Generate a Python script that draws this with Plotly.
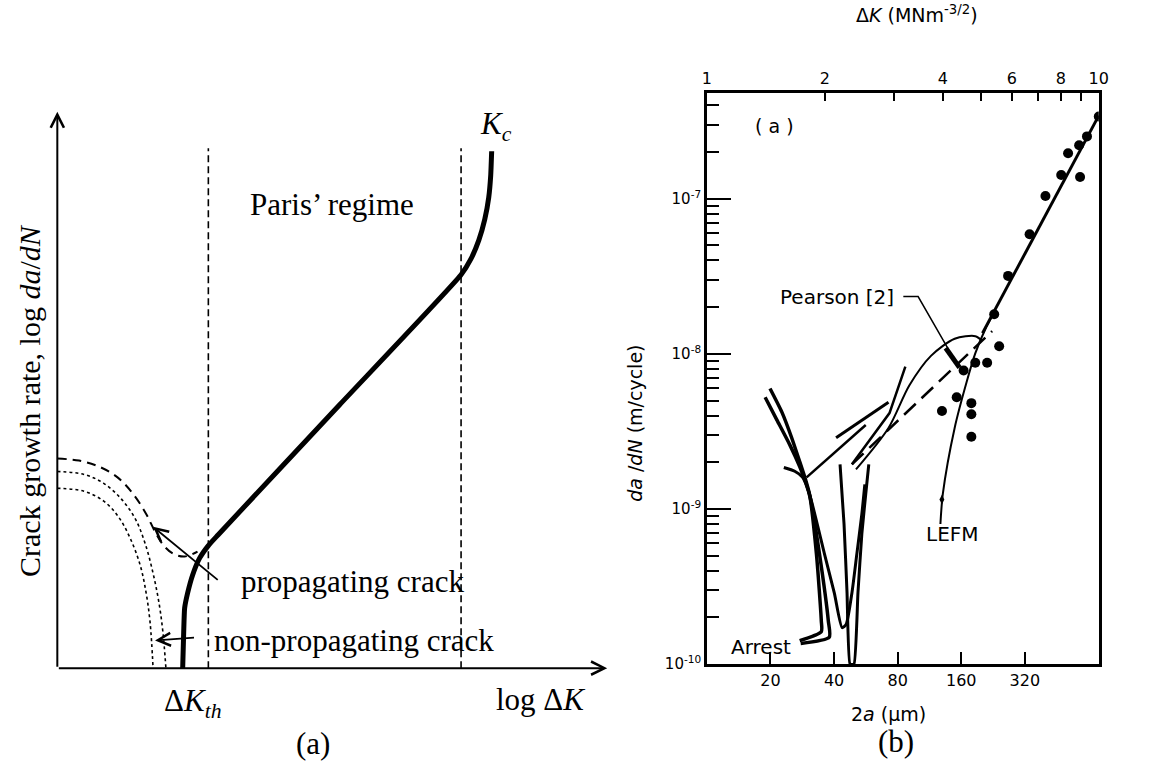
import math
import plotly.graph_objects as go

W, H = 1168, 774

# ================= Panel (a): schematic (arbitrary units: u = log dK, v = log da/dN) =========
paris_u = [2.54, 2.56, 2.58, 2.64, 2.74, 2.88, 3.06, 3.26, 5.72, 8.18, 8.38, 8.54, 8.66, 8.74, 8.78, 8.80]
paris_v = [0.0, 0.72, 1.22, 1.52, 1.88, 2.22, 2.48, 2.70, 5.33, 7.96, 8.28, 8.66, 9.08, 9.52, 9.96, 10.46]
bound_u = [3.06, 8.18]
bound_top_v = 10.52
short_dash_u = [0.0, 0.44, 0.84, 1.22, 1.54, 1.80, 1.98, 2.14, 2.34, 2.58, 2.84]
short_dash_v = [4.24, 4.20, 4.08, 3.86, 3.52, 3.12, 2.76, 2.50, 2.32, 2.26, 2.36]
dot1_u = [0.0, 0.54, 0.94, 1.30, 1.58, 1.78, 1.94, 2.06, 2.14, 2.20]
dot1_v = [3.98, 3.92, 3.74, 3.42, 3.02, 2.52, 1.92, 1.32, 0.72, 0.0]
dot2_u = [0.0, 0.54, 0.94, 1.24, 1.48, 1.68, 1.80, 1.88, 1.94]
dot2_v = [3.64, 3.58, 3.38, 3.06, 2.62, 2.08, 1.52, 0.92, 0.0]
axis_len_u = 11.14
axis_len_v = 11.26
prop_arrow = [3.28, 1.76, 1.94, 2.86]      # tail u, tail v, head u, head v
nonprop_arrow = [2.80, 0.62, 1.98, 0.56]

# ================= Panel (b): da/dN vs 2a (bottom) and dK (top) =================
# short-crack curves, x = 2a (um), y = da/dN (m/cycle)
crackP_2a = [19.9, 22.65, 25.2, 27.5, 29.3, 30.6, 33.0, 34.8, 34.8, 27.5]
crackP_rate = [5.98e-9, 4.21e-9, 2.88e-9, 2.02e-9, 1.55e-9, 1.25e-9, 5.16e-10, 1.91e-10, 1.62e-10, 1.42e-10]
crackQ_2a = [18.87, 21.47, 24.7, 27.5, 29.3, 30.95, 34.1, 37.56, 37.96, 27.8]
crackQ_rate = [5.25e-9, 3.74e-9, 2.59e-9, 1.88e-9, 1.5e-9, 1.16e-9, 5.16e-10, 1.91e-10, 1.49e-10, 1.36e-10]
crackR_2a = [23.14, 26.06, 28.4, 30.6, 36.0, 40.1, 43.67, 45.6, 48.6, 51.3, 54.16, 55.95]
crackR_rate = [1.85e-9, 1.75e-9, 1.60e-9, 1.25e-9, 5.16e-10, 2.88e-10, 1.72e-10, 1.80e-10, 2.88e-10, 5.16e-10, 9.3e-10, 1.44e-9]
crackV_2a = [42.7, 44.6, 46.08, 47.6, 49.7, 51.9, 54.16, 56.5, 58.4]
crackV_rate = [1.94e-9, 8.0e-10, 2.88e-10, 1.0e-10, 1.0e-10, 2.88e-10, 6.93e-10, 1.25e-9, 1.94e-9]
seg1_2a = [29.65, 56.5]
seg1_rate = [1.60e-9, 3.48e-9]
seg2_2a = [40.9, 72.4]
seg2_rate = [2.88e-9, 4.88e-9]
seg3_2a = [48.6, 73.2, 87.0]
seg3_rate = [1.94e-9, 4.15e-9, 8.26e-9]
arc_2a = [50.8, 72.4, 90.8, 115.0, 148.9, 186.6, 201.3]
arc_rate = [1.80e-9, 3.33e-9, 6.25e-9, 9.7e-9, 1.25e-8, 1.30e-8, 1.21e-8]
pearson_fit_2a = [48.6, 224.1]
pearson_fit_rate = [1.94e-9, 1.40e-8]
lefm_2a = [127.5, 130.9, 148.9, 169.4, 186.6, 207.9, 224.1]
lefm_rate = [8.0e-10, 1.25e-9, 3.33e-9, 6.53e-9, 1.01e-8, 1.44e-8, 1.75e-8]
lefm_mark = (129.6, 1.15e-9)
leader_2a = [85.1, 100.0, 138.1]
leader_rate = [2.34e-8, 2.34e-8, 1.09e-8]
leader_head_2a = [135.1, 157.1]
leader_head_rate = [1.09e-8, 8.15e-9]

# long-crack data, x = dK (MN m^-3/2)
long_dK = [10.0, 9.33, 8.91, 8.35, 8.96, 8.02, 7.31, 6.66, 5.87, 5.41, 5.57, 5.19, 4.84, 4.52, 4.34, 3.98, 4.73, 4.73, 4.73]
long_rate = [3.38e-7, 2.52e-7, 2.21e-7, 1.96e-7, 1.38e-7, 1.42e-7, 1.04e-7, 5.9e-8, 3.18e-8, 1.80e-8,
             1.12e-8, 8.77e-9, 8.77e-9, 7.8e-9, 5.25e-9, 4.28e-9, 4.81e-9, 4.08e-9, 2.92e-9]
paris_fit_dK = [5.05, 10.0]
paris_fit_rate = [1.36e-8, 3.43e-7]

# axis ticks
bottom_ticks = [20, 40, 80, 160, 320]
top_ticks = [1, 2, 3, 4, 5, 6, 7, 8, 9, 10]
top_ticklabels = ["1", "2", "", "4", "", "6", "", "8", "", "10"]
y_ticks = [1e-10, 1e-9, 1e-8, 1e-7]
y_ticklabels = ["10<sup>-10</sup>", "10<sup>-9</sup>", "10<sup>-8</sup>", "10<sup>-7</sup>"]
y_minor = [m * 10.0 ** e for e in (-10, -9, -8, -7) for m in range(2, 10)]

# label anchor positions (data units)
label_a_pos = (21.0, 2.96e-7)
pearson_pos = (41.5, 2.34e-8)
lefm_pos = (145.0, 6.93e-10)
arrest_pos = (18.0, 1.30e-10)

# ----------------------------------------------------------------------------------
fig = go.Figure()
K = "black"
SERIF = "Liberation Serif"
SANS = "DejaVu Sans"

def left(x, y, **kw):
    fig.add_trace(go.Scatter(x=x, y=y, mode="lines", xaxis="x3", yaxis="y3",
                             hoverinfo="skip", showlegend=False, **kw))

left(paris_u, paris_v, line=dict(color=K, width=5, shape="spline", smoothing=0.5))
left([bound_u[0], bound_u[0], None, bound_u[1], bound_u[1]],
     [0, bound_top_v, None, 0, bound_top_v], line=dict(color=K, width=1.6, dash="7px,4px"))
left(short_dash_u, short_dash_v, line=dict(color=K, width=2, dash="9px,6px", shape="spline"))
left(dot1_u, dot1_v, line=dict(color=K, width=1.6, dash="dot", shape="spline"))
left(dot2_u, dot2_v, line=dict(color=K, width=1.6, dash="dot", shape="spline"))

def right(x, y, axis="x", **kw):
    fig.add_trace(go.Scatter(x=x, y=y, xaxis=axis, yaxis="y", hoverinfo="skip",
                             showlegend=False, **kw))

thick = dict(color=K, width=3.5, shape="spline", smoothing=0.6)
right(crackP_2a, crackP_rate, mode="lines", line=thick)
right(crackQ_2a, crackQ_rate, mode="lines", line=thick)
right(crackR_2a, crackR_rate, mode="lines", line=dict(color=K, width=3, shape="spline", smoothing=0.6))
right(crackV_2a, crackV_rate, mode="lines", line=dict(color=K, width=3, shape="spline", smoothing=0.4))
right(seg1_2a, seg1_rate, mode="lines", line=dict(color=K, width=2.5))
right(seg2_2a, seg2_rate, mode="lines", line=dict(color=K, width=3))
right(seg3_2a, seg3_rate, mode="lines", line=dict(color=K, width=2.5))
right(arc_2a, arc_rate, mode="lines", line=dict(color=K, width=2, shape="spline", smoothing=0.8))
right(pearson_fit_2a, pearson_fit_rate, mode="lines", line=dict(color=K, width=2.5, dash="16px,8px"))
right(lefm_2a, lefm_rate, mode="lines", line=dict(color=K, width=2, shape="spline", smoothing=0.8))
right([lefm_mark[0]], [lefm_mark[1]], mode="markers",
      marker=dict(color=K, size=7, symbol="diamond-tall"))
right(leader_2a, leader_rate, mode="lines", line=dict(color=K, width=1.5))
right(leader_head_2a, leader_head_rate, mode="lines", line=dict(color=K, width=5))
right(paris_fit_dK, paris_fit_rate, axis="x2", mode="lines", line=dict(color=K, width=3))
right(long_dK, long_rate, axis="x2", mode="markers", marker=dict(color=K, size=10))

ann = []
# axis arrows and pointer arrows of panel (a)
for (tu, tv, hu, hv, w, s) in [(0, 0, 0, axis_len_v, 2, 1.3), (0, 0, axis_len_u, 0, 2, 1.3),
                               (*prop_arrow, 1.8, 1.4), (*nonprop_arrow, 1.8, 1.4)]:
    ann.append(dict(x=hu, y=hv, ax=tu, ay=tv, xref="x3", yref="y3", axref="x3", ayref="y3",
                    text="", showarrow=True, arrowhead=5, arrowsize=s, arrowwidth=w, arrowcolor=K))

def ltext(u, v, t, size=31, xanchor="center", angle=0):
    ann.append(dict(x=u, y=v, xref="x3", yref="y3", text=t, showarrow=False, xanchor=xanchor,
                    yanchor="middle", textangle=angle, font=dict(family=SERIF, size=size, color=K)))

ltext(5.56, 9.38, "Paris’ regime")
ltext(8.88, 10.98, "<i>K</i><sub><i>c</i></sub>")
ltext(3.68, 1.76, "propagating crack", xanchor="left")
ltext(3.14, 0.56, "non-propagating crack", xanchor="left")
ltext(2.74, -0.70, "Δ<i>K</i><sub><i>th</i></sub>")
ltext(9.80, -0.64, "log Δ<i>K</i>")
ltext(5.18, -1.52, "(a)")
ltext(-0.56, 5.42, "Crack growth rate, log <i>da</i>/<i>dN</i>", size=30, angle=-90)

def rtext(pos, t, size=20):
    ann.append(dict(x=math.log10(pos[0]), y=math.log10(pos[1]), xref="x", yref="y", text=t,
                    showarrow=False, xanchor="center", yanchor="middle",
                    font=dict(family=SANS, size=size, color=K)))

rtext(label_a_pos, "( a )", 19)
rtext(pearson_pos, "Pearson [2]")
rtext(lefm_pos, "LEFM")
rtext(arrest_pos, "Arrest")

def ptext(px, py, t, size=18, angle=0, family=SANS):
    ann.append(dict(x=px / W, y=1 - py / H, xref="paper", yref="paper", text=t, showarrow=False,
                    xanchor="center", yanchor="middle", textangle=angle,
                    font=dict(family=family, size=size, color=K)))

ptext(638, 428, "<i>da</i> /<i>dN</i> (m/cycle)", 19, -90)
ptext(924, 14, "Δ<i>K</i> (MNm<sup>-3/2</sup>)", 19)
ptext(895, 722, "2<i>a</i> (μm)", 19)
ptext(903, 750, "(b)", 31, family=SERIF)

box_l, box_r, box_t, box_b = 711, 1108, 94, 672
px_per_dec_2a = 214.0
px_per_dec_dK = box_r - box_l
px_per_dec_rate = 157.0

fig.update_layout(
    width=W, height=H, autosize=False,
    margin=dict(l=0, r=0, t=0, b=0, pad=0),
    paper_bgcolor="white", plot_bgcolor="white",
    showlegend=False, annotations=ann,
    xaxis3=dict(domain=[0, 0.53], range=[-1.06, -1.06 + 0.53 * W / 50], visible=False, anchor="y3"),
    yaxis3=dict(domain=[0, 1], range=[-1.96, -1.96 + H / 50], visible=False, anchor="x3"),
    xaxis=dict(domain=[box_l / W, box_r / W], type="log",
               range=[1, 1 + (box_r - box_l) / px_per_dec_2a], anchor="y",
               showline=True, linewidth=2.5, linecolor=K, mirror=False,
               ticks="inside", ticklen=12, tickwidth=2, tickcolor=K,
               tickvals=bottom_ticks, ticktext=[str(t) for t in bottom_ticks],
               tickfont=dict(family=SANS, size=16, color=K), showgrid=False, zeroline=False),
    xaxis2=dict(domain=[box_l / W, box_r / W], type="log", range=[0, (box_r - box_l) / px_per_dec_dK],
                overlaying="x", side="top", anchor="y",
                showline=True, linewidth=2.5, linecolor=K,
                ticks="inside", ticklen=8, tickwidth=1.5, tickcolor=K,
                tickvals=top_ticks, ticktext=top_ticklabels,
                tickfont=dict(family=SANS, size=16, color=K), showgrid=False, zeroline=False),
    yaxis=dict(domain=[1 - box_b / H, 1 - box_t / H], type="log",
               range=[-10, -10 + (box_b - box_t) / px_per_dec_rate], anchor="x",
               showline=True, linewidth=2.5, linecolor=K, mirror=True,
               ticks="inside", ticklen=24, tickwidth=2, tickcolor=K,
               tickvals=y_ticks, ticktext=y_ticklabels,
               tickfont=dict(family=SANS, size=15, color=K), showgrid=False, zeroline=False,
               minor=dict(tickvals=y_minor, ticks="inside", ticklen=12, tickwidth=1.5,
                          tickcolor=K, showgrid=False)),
)

fig.write_html("out.html")
